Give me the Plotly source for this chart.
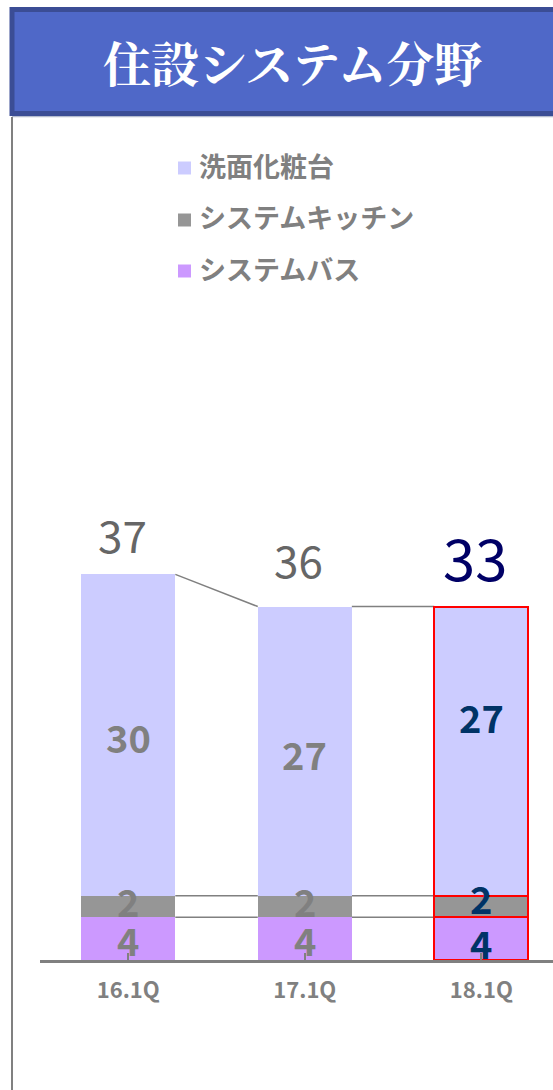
import plotly.graph_objects as go

# ---- data ----
categories = ["16.1Q", "17.1Q", "18.1Q"]
series_names = ["システムバス", "システムキッチン", "洗面化粧台"]   # bottom -> top
bath = [4, 4, 4]
kitchen = [2, 2, 2]
vanity = [30, 27, 27]
totals = [37, 36, 33]          # labels shown above the bars
title_text = "住設システム分野"

# ---- style ----
series_values = [bath, kitchen, vanity]
series_colors = ["#cc99ff", "#969696", "#ccccff"]
W, H = 553, 1090
ML, MR, MT, MB = 40, 0, 478, 130
PW, PH = W - ML - MR, H - MT - MB
BAR_W = 0.533
JP_FONT = "Noto Sans CJK JP, sans-serif"
NUM_FONT = JP_FONT
GRAY = "#808080"


def px(xp):
    return (xp - ML) / PW


def py(yp):
    return (H - MB - yp) / PH


fig = go.Figure()
n = len(categories)
xs = list(range(n))
line_colors = ["rgba(0,0,0,0)"] * (n - 1) + ["#ff0000"]
line_widths = [0] * (n - 1) + [2]
for name, vals, col in zip(series_names, series_values, series_colors):
    fig.add_trace(go.Bar(
        x=xs, y=vals, name=name, width=BAR_W,
        marker=dict(color=col, line=dict(color=line_colors, width=line_widths)),
        showlegend=False, hoverinfo="skip",
    ))

# cumulative levels
cum = [[0] * n]
for vals in series_values:
    cum.append([c + v for c, v in zip(cum[-1], vals)])

shapes = []
# connector lines between adjacent bars at each boundary level
for lvl in cum[1:]:
    for i in range(n - 1):
        shapes.append(dict(type="line", xref="x", yref="y",
                           x0=i + BAR_W / 2, x1=i + 1 - BAR_W / 2,
                           y0=lvl[i], y1=lvl[i + 1],
                           line=dict(color=GRAY, width=1.5), layer="below"))

# banner shadow + banner
shapes.append(dict(type="line", xref="paper", yref="paper",
                   x0=px(12), x1=px(620), y0=py(116.5), y1=py(116.5),
                   line=dict(color="#b4bccf", width=1.5)))
shapes.append(dict(type="rect", xref="paper", yref="paper",
                   x0=px(12), x1=px(620), y0=py(9.5), y1=py(113.5),
                   fillcolor="#4f68c8", line=dict(color="#3b4d95", width=5)))
# left frame line
shapes.append(dict(type="line", xref="paper", yref="paper",
                   x0=px(12), x1=px(12), y0=py(117), y1=py(H + 5),
                   line=dict(color=GRAY, width=2)))

annotations = []
annotations.append(dict(xref="paper", yref="paper", x=px(292), y=py(61),
                        text=title_text, showarrow=False,
                        xanchor="center", yanchor="middle",
                        font=dict(family="Noto Serif CJK JP, " + JP_FONT, size=48,
                                  color="white", weight="bold")))

# manual legend (top item = top of stack)
legend_y = [168, 220, 271]
for yy, name, col in zip(legend_y, series_names[::-1], series_colors[::-1]):
    shapes.append(dict(type="rect", xref="paper", yref="paper",
                       x0=px(178), x1=px(191), y0=py(yy - 6.5), y1=py(yy + 6.5),
                       fillcolor=col, line=dict(width=0)))
    annotations.append(dict(xref="paper", yref="paper", x=px(197), y=py(yy), yshift=3,
                            text=name, showarrow=False, xanchor="left", yanchor="middle",
                            font=dict(family=JP_FONT, size=27, color=GRAY, weight="bold")))

# segment labels
seg_shift = [[-1, -1, -4], [6, 6, 9], [-1, -2, 35]]
for s, vals in enumerate(series_values):
    for i in range(n):
        hl = i == n - 1
        annotations.append(dict(
            x=i, y=cum[s][i] + vals[i] / 2, xref="x", yref="y",
            text=str(vals[i]), showarrow=False, xanchor="center", yanchor="middle",
            yshift=seg_shift[s][i],
            font=dict(family=NUM_FONT, size=38,
                      color="#003366" if hl else GRAY, weight="bold")))

# total labels
tot_color = ["#666666", "#666666", "#000066"]
tot_size = [44, 44, 58]
tot_shift = [40, 48, 51]
for i in range(n):
    annotations.append(dict(
        x=i, y=cum[-1][i], xref="x", yref="y", text=str(totals[i]),
        showarrow=False, xanchor="center", yanchor="middle",
        xshift=-6, yshift=tot_shift[i],
        font=dict(family=NUM_FONT, size=tot_size[i], color=tot_color[i])))

fig.update_layout(
    width=W, height=H,
    margin=dict(l=ML, r=MR, t=MT, b=MB, autoexpand=False),
    paper_bgcolor="white", plot_bgcolor="white",
    barmode="stack", bargap=0,
    shapes=shapes, annotations=annotations,
    showlegend=False,
    xaxis=dict(range=[-0.5, 2.406], tickmode="array", tickvals=xs, ticktext=categories,
               tickson="boundaries", ticks="inside", ticklen=7, tickwidth=1.5,
               tickcolor=GRAY, showline=True, linecolor=GRAY, linewidth=2.5,
               showgrid=False, zeroline=False, ticklabelstandoff=9,
               tickfont=dict(family=JP_FONT, size=22, color=GRAY, weight="bold")),
    yaxis=dict(range=[0, 45], visible=False, showgrid=False, zeroline=False),
)

fig.write_html("out.html",
               config={"displayModeBar": False},
               post_script="document.body.style.margin='0px';"
                           "document.documentElement.style.margin='0px';")
